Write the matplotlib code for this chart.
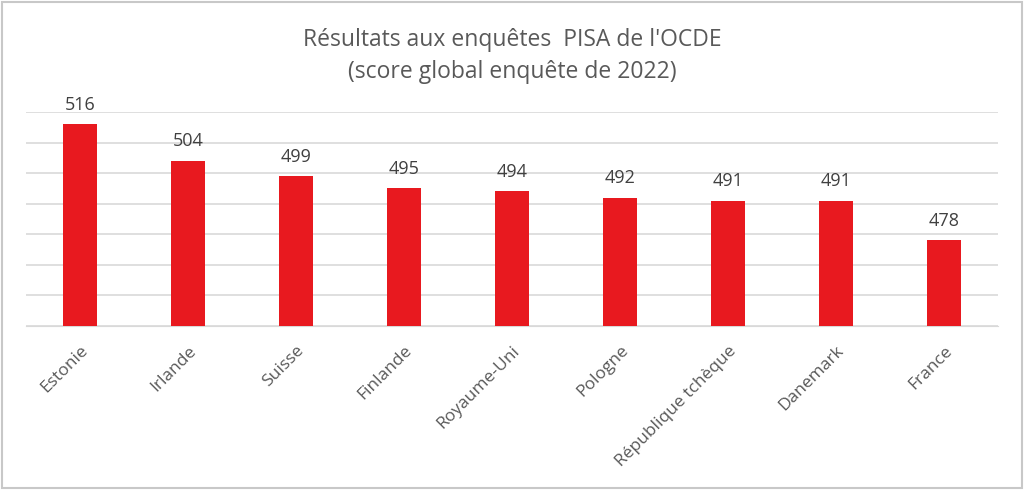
import matplotlib.pyplot as plt
from matplotlib.patches import Rectangle

pays = ["Estonie", "Irlande", "Suisse", "Finlande", "Royaume-Uni",
        "Pologne", "République tchèque", "Danemark", "France"]
scores = [516, 504, 499, 495, 494, 492, 491, 491, 478]

plt.rcParams['font.family'] = ['Open Sans', 'DejaVu Sans']

fig = plt.figure(figsize=(10.24, 4.9), dpi=100)
fig.patches.append(Rectangle((0.002, 0.004), 0.996, 0.992, transform=fig.transFigure,
                             fill=False, edgecolor="#c8c8c8", linewidth=1.5))
ax = fig.add_axes([0.0254, 0.3347, 0.9492, 0.4367])

x = range(len(pays))
bars = ax.bar(x, scores, width=0.31, color="#e8191f", zorder=3)
for b, v in zip(bars, scores):
    ax.text(b.get_x() + b.get_width() / 2, v + 3.5, str(v), ha="center", va="bottom",
            fontsize=13, color="#404040")

ax.set_ylim(450, 520)
ax.set_xlim(-0.5, len(pays) - 0.5)
ax.set_yticks(range(450, 521, 10))
ax.set_yticklabels([])
ax.tick_params(axis="y", length=0)
ax.tick_params(axis="x", length=0, pad=12)
ax.grid(axis="y", color="#d9d9d9", linewidth=1.2, zorder=0)
ax.set_xticks(list(x))
ax.set_xticklabels(pays, rotation=45, ha="right", rotation_mode="anchor",
                   fontsize=12.5, color="#595959")
for s in ["top", "right", "left"]:
    ax.spines[s].set_visible(False)
ax.spines["bottom"].set_color("#d9d9d9")

fig.text(0.5, 0.918, "Résultats aux enquêtes  PISA de l'OCDE", ha="center", va="center",
         fontsize=16.5, color="#595959")
fig.text(0.5, 0.853, "(score global enquête de 2022)", ha="center", va="center",
         fontsize=16.5, color="#595959")

fig.savefig("out.png")
